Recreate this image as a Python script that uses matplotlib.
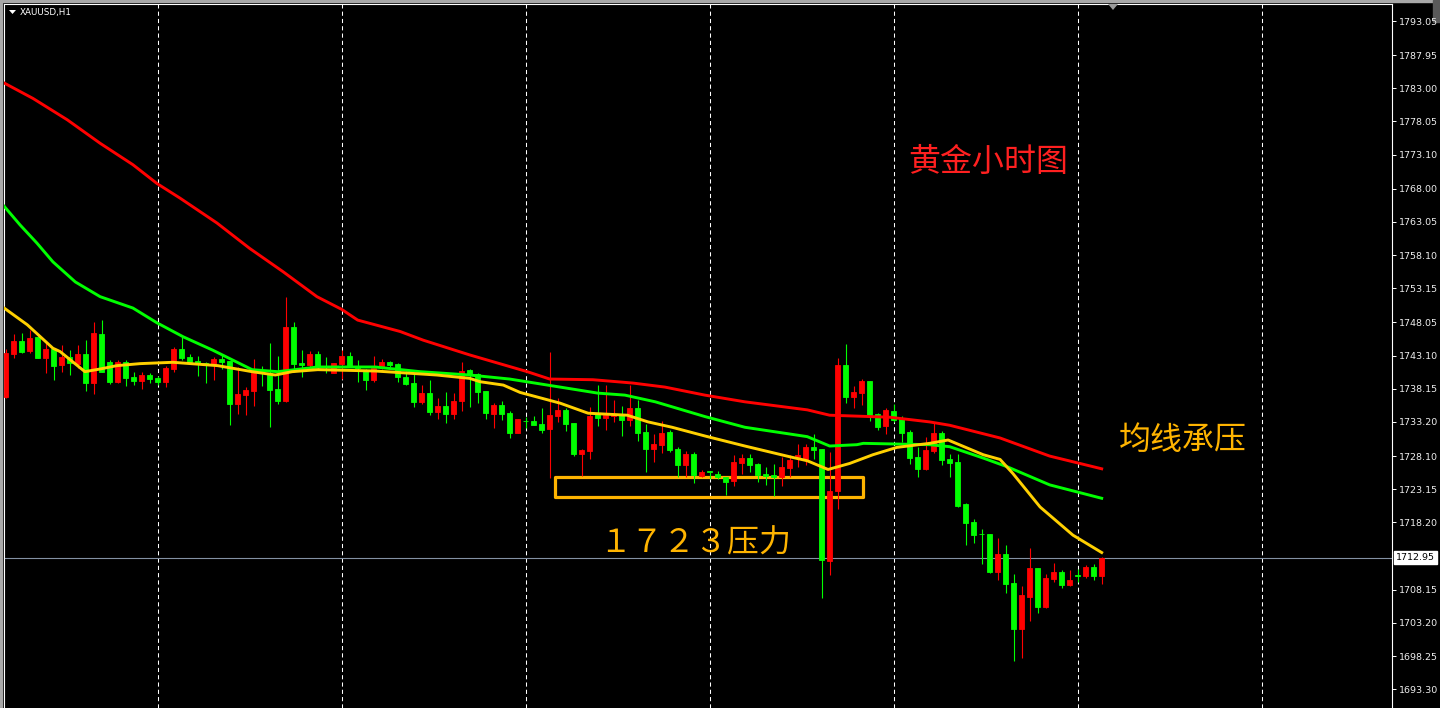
import numpy as np
import matplotlib
matplotlib.use('Agg')
import matplotlib.pyplot as plt
from matplotlib.patches import Rectangle, Polygon
from matplotlib.transforms import blended_transform_factory

plt.rcParams['font.family'] = ['Noto Sans CJK SC', 'DejaVu Sans']

# XAUUSD H1 蜡烛 (开, 高, 低, 收)，红涨绿跌
opens = [1736.9, 1743.3, 1745.3, 1743.8, 1745.9, 1742.7, 1744.1, 1741.7, 1742.9, 1741.9,
         1743.3, 1739.0, 1746.3, 1742.2, 1739.2, 1742.2, 1739.9, 1739.3, 1740.2, 1739.8,
         1739.2, 1741.1, 1744.1, 1742.9, 1742.3, 1742.0, 1741.9, 1742.6, 1742.3, 1735.9,
         1737.2, 1737.8, 1740.8, 1740.5, 1738.1, 1736.3, 1747.4, 1742.0, 1741.7, 1743.3,
         1741.6, 1740.5, 1741.9, 1743.0, 1741.6, 1741.0, 1739.5, 1741.4, 1742.2, 1741.9,
         1739.9, 1739.0, 1736.2, 1737.5, 1734.7, 1735.6, 1734.4, 1736.3, 1741.0, 1740.4,
         1737.8, 1734.4, 1735.7, 1734.5, 1731.5, 1733.4, 1733.3, 1732.9, 1732.1, 1734.1,
         1735.0, 1733.0, 1728.4, 1728.9, 1734.4, 1733.8, 1734.1, 1734.4, 1733.5, 1735.3,
         1731.7, 1729.2, 1729.8, 1731.7, 1729.2, 1726.8, 1728.4, 1725.1, 1725.8, 1725.4,
         1725.0, 1724.4, 1727.1, 1727.8, 1726.9, 1725.4, 1725.3, 1725.0, 1726.3, 1728.0,
         1727.7, 1729.5, 1729.2, 1712.4, 1722.9, 1741.7, 1736.9, 1737.5, 1739.3, 1734.4,
         1732.6, 1734.8, 1733.8, 1731.7, 1728.0, 1726.2, 1728.9, 1731.5, 1727.7, 1727.2,
         1720.9, 1718.3, 1716.5, 1716.5, 1710.8, 1713.5, 1709.2, 1702.3, 1707.1, 1711.4,
         1705.6, 1709.7, 1710.8, 1708.9, 1710.3, 1710.2, 1711.5, 1710.2]
highs = [1744.1, 1746.3, 1746.5, 1746.9, 1746.0, 1745.0, 1744.2, 1744.7, 1743.9, 1744.7,
         1745.4, 1748.1, 1748.4, 1742.4, 1742.4, 1742.4, 1740.7, 1740.7, 1740.5, 1740.1,
         1741.6, 1744.4, 1745.9, 1743.3, 1743.0, 1742.2, 1742.9, 1743.2, 1742.3, 1741.4,
         1738.4, 1742.6, 1741.6, 1745.0, 1743.0, 1751.9, 1748.1, 1743.9, 1743.8, 1743.8,
         1742.9, 1742.0, 1743.9, 1743.6, 1742.4, 1741.1, 1743.0, 1742.6, 1742.3, 1742.0,
         1740.8, 1740.4, 1738.7, 1739.5, 1736.8, 1737.7, 1737.5, 1742.2, 1741.1, 1740.5,
         1737.8, 1736.0, 1736.3, 1734.8, 1733.6, 1733.9, 1734.1, 1735.3, 1743.6, 1736.8,
         1735.3, 1733.0, 1729.2, 1735.4, 1738.7, 1738.7, 1736.5, 1735.6, 1738.7, 1736.5,
         1732.9, 1731.4, 1733.3, 1732.0, 1729.5, 1728.9, 1728.7, 1726.0, 1725.9, 1725.9,
         1725.0, 1728.3, 1728.4, 1728.4, 1727.1, 1726.5, 1726.9, 1728.0, 1728.3, 1729.9,
         1729.9, 1731.4, 1729.2, 1728.7, 1742.7, 1744.8, 1738.6, 1739.6, 1739.3, 1734.5,
         1735.3, 1735.9, 1734.1, 1732.0, 1729.5, 1731.0, 1733.0, 1731.8, 1728.4, 1728.4,
         1721.1, 1718.7, 1717.2, 1716.5, 1715.9, 1714.8, 1710.5, 1708.7, 1714.4, 1711.4,
         1710.5, 1712.1, 1711.1, 1711.1, 1711.2, 1711.8, 1712.0, 1713.1]
lows = [1736.8, 1742.7, 1743.5, 1743.5, 1742.7, 1740.5, 1739.5, 1740.7, 1740.2, 1741.3,
        1737.8, 1737.4, 1740.7, 1738.9, 1739.0, 1738.6, 1738.7, 1738.1, 1739.0, 1738.7,
        1738.4, 1740.7, 1742.4, 1742.0, 1740.1, 1739.0, 1739.5, 1741.1, 1732.7, 1734.4,
        1734.2, 1735.6, 1738.6, 1732.4, 1735.9, 1736.2, 1740.7, 1739.9, 1741.4, 1741.0,
        1740.5, 1740.5, 1739.6, 1741.4, 1739.2, 1738.0, 1739.2, 1741.1, 1741.4, 1739.2,
        1738.7, 1735.4, 1735.9, 1734.2, 1733.6, 1733.0, 1733.6, 1734.8, 1735.4, 1736.0,
        1733.6, 1732.3, 1733.5, 1730.8, 1731.5, 1732.3, 1732.7, 1731.5, 1724.8, 1733.2,
        1731.8, 1728.1, 1725.1, 1727.7, 1732.6, 1732.0, 1733.2, 1731.1, 1732.6, 1730.4,
        1725.7, 1727.2, 1728.6, 1728.7, 1725.0, 1725.0, 1724.1, 1725.0, 1724.7, 1724.7,
        1722.3, 1723.6, 1725.4, 1725.7, 1724.2, 1723.8, 1722.1, 1723.6, 1725.0, 1726.5,
        1726.8, 1727.7, 1706.9, 1710.3, 1720.2, 1736.0, 1735.3, 1735.7, 1733.3, 1732.0,
        1731.4, 1733.2, 1730.2, 1726.9, 1725.0, 1726.0, 1728.6, 1726.8, 1725.0, 1720.5,
        1714.8, 1715.1, 1712.0, 1710.6, 1709.6, 1707.6, 1697.5, 1698.0, 1703.5, 1704.7,
        1705.4, 1709.3, 1708.4, 1708.7, 1709.3, 1709.9, 1709.6, 1709.0]
closes = [1743.5, 1745.3, 1743.6, 1745.7, 1742.7, 1744.1, 1741.6, 1742.9, 1742.0, 1743.3,
          1739.0, 1746.5, 1740.7, 1739.2, 1742.2, 1739.8, 1739.3, 1740.2, 1739.6, 1739.2,
          1741.3, 1744.1, 1742.7, 1742.2, 1742.0, 1741.7, 1742.6, 1742.2, 1735.9, 1737.4,
          1738.0, 1740.5, 1740.7, 1738.0, 1736.3, 1747.4, 1741.9, 1741.7, 1743.3, 1741.4,
          1741.4, 1742.0, 1743.0, 1741.4, 1741.3, 1739.5, 1741.3, 1742.2, 1741.7, 1739.9,
          1738.9, 1736.2, 1737.5, 1734.7, 1735.6, 1734.4, 1736.3, 1740.8, 1740.4, 1737.7,
          1734.5, 1735.7, 1734.4, 1731.5, 1733.6, 1733.3, 1732.7, 1732.0, 1734.2, 1735.0,
          1732.9, 1728.4, 1729.0, 1734.1, 1733.8, 1734.2, 1734.4, 1733.5, 1735.3, 1731.5,
          1729.2, 1729.9, 1731.5, 1729.0, 1726.8, 1728.4, 1725.3, 1725.7, 1725.7, 1725.0,
          1724.2, 1727.2, 1727.8, 1726.8, 1725.3, 1725.1, 1725.0, 1726.5, 1727.5, 1728.3,
          1729.5, 1729.0, 1712.6, 1722.9, 1741.7, 1736.9, 1737.7, 1739.3, 1734.2, 1732.4,
          1735.0, 1733.5, 1731.5, 1727.8, 1726.2, 1729.0, 1731.5, 1727.5, 1727.1, 1720.6,
          1718.1, 1716.3, 1716.4, 1710.8, 1713.5, 1709.0, 1702.3, 1707.4, 1711.4, 1705.6,
          1709.9, 1710.8, 1708.9, 1709.6, 1710.2, 1711.5, 1710.2, 1712.95]

# 均线 (K线序号, 价格)
red_ma_x = [-0.2, 3.4, 7.7, 11.8, 15.9, 18.9, 21.8, 26.4, 30.5, 34.7, 38.9, 42.0, 44.0, 49.3,
            52.2, 58.0, 65.2, 68.0, 73.4, 78.4, 82.4, 87.4, 92.4, 100.2, 103.0, 110.5, 115.5,
            118.0, 124.3, 130.5, 137.0]
red_ma = [1783.8, 1781.5, 1778.3, 1774.8, 1771.6, 1768.8, 1766.6, 1762.9, 1759.1, 1755.6,
          1751.9, 1750.0, 1748.4, 1746.7, 1745.4, 1743.2, 1740.7, 1739.6, 1739.5, 1739.0,
          1738.4, 1737.2, 1736.2, 1735.0, 1734.2, 1733.9, 1733.2, 1732.7, 1730.8, 1728.1,
          1726.2]
green_ma_x = [-0.2, 1.8, 3.9, 5.9, 8.7, 11.8, 15.9, 18.9, 22.2, 25.9, 30.8, 34.0, 39.0, 46.2,
              51.8, 58.0, 63.0, 69.3, 74.0, 77.4, 81.2, 87.4, 92.4, 100.2, 101.8, 103.0, 106.4,
              107.2, 115.5, 118.0, 122.2, 125.2, 130.5, 137.0]
green_ma = [1765.4, 1762.6, 1759.9, 1757.1, 1754.1, 1751.9, 1750.2, 1748.0, 1745.9, 1743.9,
            1741.0, 1740.7, 1741.4, 1741.4, 1740.7, 1740.2, 1739.6, 1738.4, 1737.5, 1737.2,
            1736.2, 1734.0, 1732.4, 1731.0, 1730.2, 1729.6, 1729.8, 1730.0, 1729.8, 1729.5,
            1727.8, 1726.5, 1723.8, 1721.8]
yellow_ma_x = [-0.2, 2.7, 5.9, 6.8, 9.9, 11.8, 13.9, 16.8, 20.9, 26.5, 30.8, 33.7, 35.8, 39.0,
               46.2, 53.9, 58.0, 59.3, 62.2, 64.3, 69.3, 72.8, 77.7, 80.3, 83.3, 87.4, 92.4,
               98.0, 100.2, 101.8, 102.8, 105.5, 108.4, 111.4, 115.5, 117.8, 122.2, 124.3,
               125.9, 129.3, 133.4, 137.0]
yellow_ma = [1750.2, 1747.7, 1744.2, 1743.7, 1740.7, 1741.1, 1741.6, 1741.9, 1742.1, 1741.6,
             1740.7, 1740.2, 1740.7, 1741.0, 1740.8, 1740.2, 1739.7, 1739.2, 1738.7, 1737.6,
             1736.0, 1734.5, 1734.2, 1733.2, 1732.4, 1731.1, 1729.6, 1728.0, 1727.4, 1726.6,
             1726.1, 1727.0, 1728.3, 1729.4, 1730.0, 1730.5, 1728.3, 1727.6, 1725.5, 1720.5,
             1716.3, 1713.7]

price_ticks = [1793.05, 1787.95, 1783.00, 1778.05, 1773.10, 1768.00, 1763.05, 1758.10,
               1753.15, 1748.05, 1743.10, 1738.15, 1733.20, 1728.10, 1723.15, 1718.20,
               1708.15, 1703.20, 1698.25, 1693.30]
last_price = 1712.95

# 1723 压力区
zone_x0, zone_x1 = 68.7, 107.2
zone_lo, zone_hi = 1722.0, 1725.0

W, H = 1440, 708
fig = plt.figure(figsize=(W / 100, H / 100), dpi=100, facecolor='black')
ax = fig.add_axes([4 / W, 0, 1388 / W, 704 / H])
ax.set_facecolor('black')
ax.set_xlim(-0.2125, 173.29)
ax.set_ylim(1690.49, 1795.59)

# 竖向网格
for gx in range(19, 174, 23):
    ax.axvline(gx, color='white', lw=0.75, ls=(0, (4, 3)), zorder=1)

ax.axhline(last_price, color='#8391a3', lw=0.8, zorder=1)

ax.add_patch(Rectangle((zone_x0, zone_lo), zone_x1 - zone_x0, zone_hi - zone_lo,
                       fill=False, ec='#ffb400', lw=2.3, joinstyle='round', zorder=1.5))

o = np.array(opens)
h = np.array(highs)
l = np.array(lows)
c = np.array(closes)
x = np.arange(len(o))
col = np.where(c >= o, '#ff0000', '#00ff00')
ax.vlines(x, l, h, colors=col, lw=0.8, zorder=2)
ax.bar(x, np.abs(c - o), bottom=np.minimum(o, c), width=0.55, color=col,
       edgecolor=col, linewidth=0.6, zorder=3)

ax.plot(red_ma_x, red_ma, color='#ff0000', lw=2.1, zorder=4, solid_joinstyle='round')
ax.plot(green_ma_x, green_ma, color='#00ff00', lw=2.1, zorder=4, solid_joinstyle='round')
ax.plot(yellow_ma_x, yellow_ma, color='#ffd000', lw=2.1, zorder=4, solid_joinstyle='round')

ax.text(122.8, 1772.0, '黄金小时图', color='#ff2020', fontsize=23, ha='center', va='center', zorder=6)
ax.text(147.2, 1730.5, '均线承压', color='#ffb400', fontsize=23, ha='center', va='center', zorder=6)
ax.text(86.2, 1715.1, '１７２３压力', color='#ffb400', fontsize=23, ha='center', va='center', zorder=6)

# 右侧价格轴
ax.yaxis.tick_right()
ax.set_yticks(price_ticks)
ax.set_yticklabels([f'{v:.2f}' for v in price_ticks], fontfamily='DejaVu Sans')
ax.tick_params(axis='y', colors='white', labelcolor='#eeeeee', labelsize=6.8,
               length=3, width=0.7, pad=2)
ax.set_xticks([])
for s in ['left', 'top', 'right']:
    ax.spines[s].set_color('white')
    ax.spines[s].set_linewidth(0.8)
ax.spines['bottom'].set_visible(False)

tr = blended_transform_factory(ax.transAxes, ax.transData)
ax.text(1.0 + 4 / 1388, last_price, f'{last_price:.2f}', transform=tr, fontsize=6.8,
        family='DejaVu Sans', color='black', ha='left', va='center', clip_on=False,
        bbox=dict(boxstyle='square,pad=0.2', fc='white', ec='white'))

# 窗口边框与标题
fig.patches.append(Rectangle((0, 1 - 2 / H), 1, 2 / H, transform=fig.transFigure,
                             color='#a8a8a8', zorder=-1))
fig.patches.append(Rectangle((0, 0), 2 / W, 1, transform=fig.transFigure,
                             color='#a8a8a8', zorder=-1))
fig.patches.append(Rectangle((1433 / W, 1 - 22 / H), 7 / W, 22 / H, transform=fig.transFigure,
                             color='#5a5a5a', zorder=-1))
fig.patches.append(Polygon([(9 / W, 1 - 10 / H), (16 / W, 1 - 10 / H), (12.5 / W, 1 - 14 / H)],
                           closed=True, transform=fig.transFigure, fc='white', ec='none'))
fig.patches.append(Polygon([(1108 / W, 1 - 4 / H), (1118 / W, 1 - 4 / H), (1113 / W, 1 - 10 / H)],
                           closed=True, transform=fig.transFigure, fc='#9a9a9a', ec='none'))
fig.text(20 / W, 1 - 12 / H, 'XAUUSD,H1', color='white', fontsize=6.3,
         family='DejaVu Sans', ha='left', va='center')

fig.savefig('out.png', dpi=100, facecolor='black')
